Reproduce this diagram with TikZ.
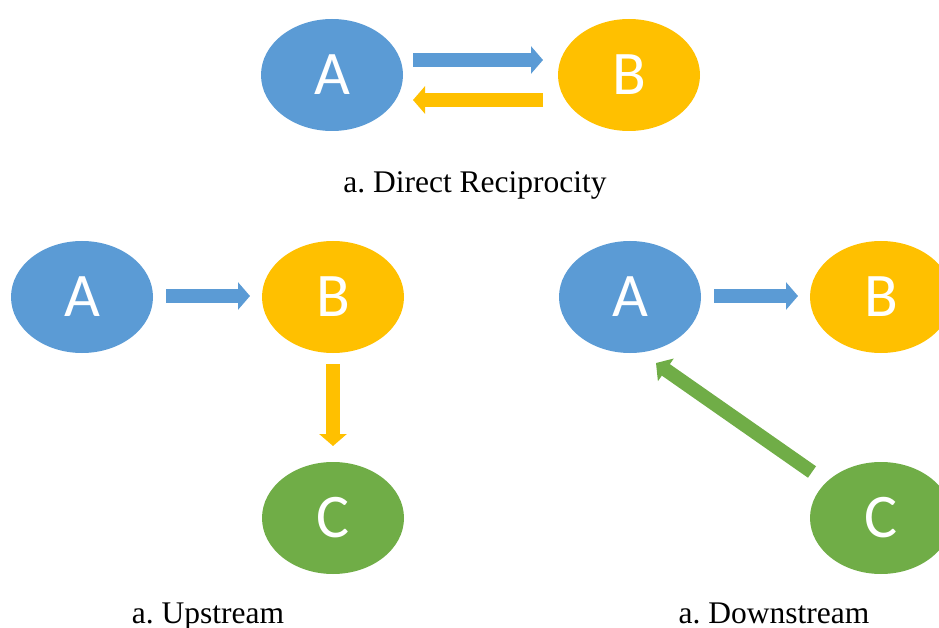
\documentclass[tikz,border=0pt]{standalone}
\usepackage{fontspec}
\setmainfont{Liberation Serif}
\newfontfamily\lblfont{Carlito}
\usetikzlibrary{shapes.geometric,arrows.meta}
\definecolor{cblue}{HTML}{5B9BD5}
\definecolor{cyel}{HTML}{FFC000}
\definecolor{cgreen}{HTML}{70AD47}
\frenchspacing
\begin{document}
\begin{tikzpicture}[x=1pt,y=-1pt,
  oval/.style={ellipse,minimum width=142pt,minimum height=112pt,inner sep=0pt,
    text=white,font=\lblfont\fontsize{62}{62}\selectfont},
  ablue/.style={oval,fill=cblue},
  ayel/.style={oval,fill=cyel},
  agreen/.style={oval,fill=cgreen},
  blk/.style={line width=14pt,-{Triangle[length=12pt,width=27pt]}},
  captext/.style={font=\fontsize{31.5}{32}\selectfont,anchor=base}
]
\useasboundingbox (0,0) rectangle (939,628);
% top
\node[ablue] (tA) at (332,75) {A};
\node[ayel] (tB) at (629,75) {B};
\coordinate (t1s) at (413,60); \coordinate (t1e) at (543,60);
\coordinate (t2s) at (543,100); \coordinate (t2e) at (413,100);
\draw[blk,cblue] (t1s) -- (t1e);
\draw[blk,cyel] (t2s) -- (t2e);
\node[captext] (tcap) at (475,193) {a. Direct Reciprocity};
% bottom left
\node[ablue] (lA) at (82,297) {A};
\node[ayel] (lB) at (333,297) {B};
\node[agreen] (lC) at (333,518) {C};
\coordinate (l1s) at (166,296); \coordinate (l1e) at (250,296);
\coordinate (l2s) at (333,364); \coordinate (l2e) at (333,446);
\draw[blk,cblue] (l1s) -- (l1e);
\draw[blk,cyel] (l2s) -- (l2e);
\node[captext] (lcap) at (208,623) {a. Upstream};
% bottom right
\node[ablue] (rA) at (630,297) {A};
\node[ayel] (rB) at (881,297) {B};
\node[agreen] (rC) at (881,518) {C};
\coordinate (r1s) at (714,296); \coordinate (r1e) at (798,296);
\coordinate (r2s) at (812,472); \coordinate (r2e) at (656,363);
\draw[blk,cblue] (r1s) -- (r1e);
\draw[blk,cgreen] (r2s) -- (r2e);
\node[captext] (rcap) at (774,623) {a. Downstream};
\end{tikzpicture}
\end{document}
